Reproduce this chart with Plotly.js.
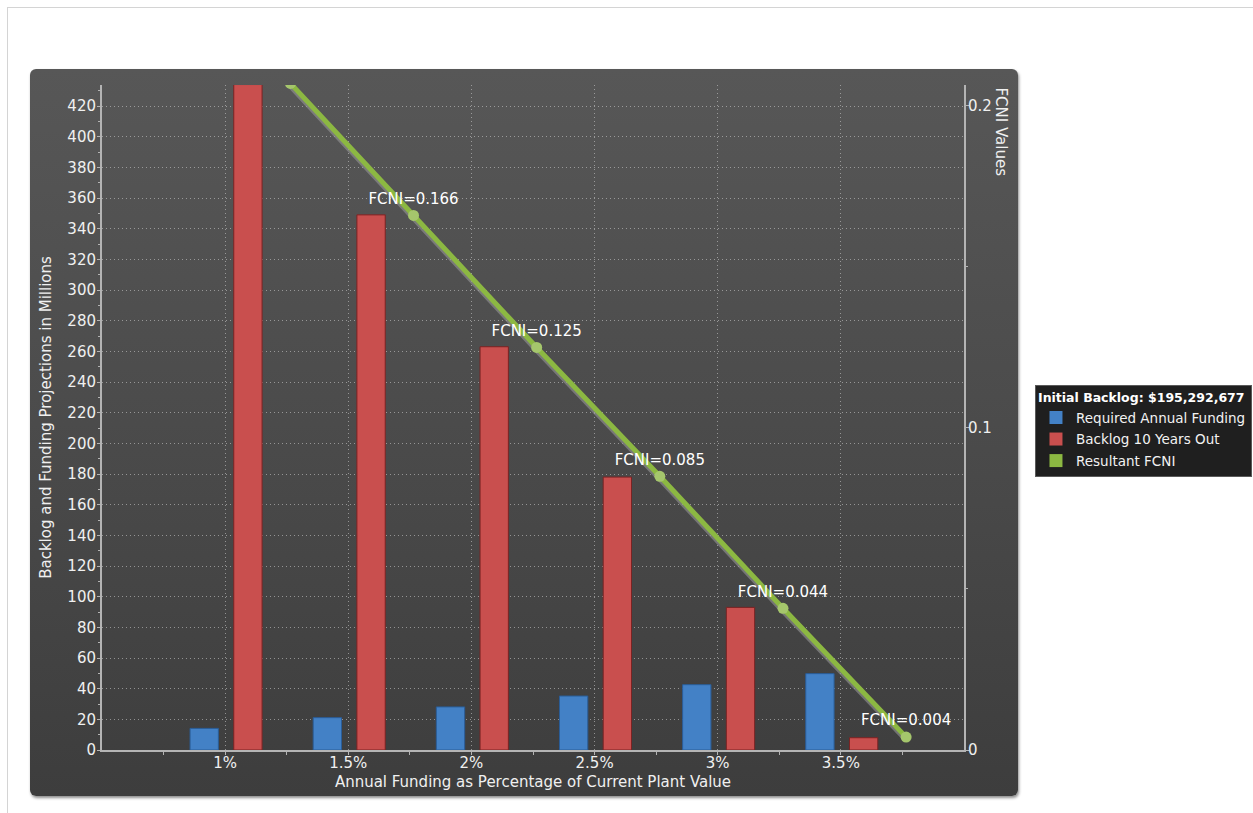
<!DOCTYPE html>
<html>
<head>
<meta charset="utf-8">
<script src="https://cdn.plot.ly/plotly-3.0.1.min.js"></script>
<style>
  html, body { margin: 0; padding: 0; background: #ffffff; overflow: hidden; }
  #frame { position: absolute; left: 7px; top: 7px; width: 1270px; height: 830px; border: 1px solid #d4d4d4; box-sizing: border-box; }
  #panel { position: absolute; left: 30px; top: 69px; width: 988px; height: 727px; border-radius: 6px;
           background: linear-gradient(to bottom, #575757 0%, #4c4c4c 45%, #3d3d3d 100%);
           box-shadow: 1px 2px 3px rgba(0,0,0,0.45); }
  #chart { position: absolute; left: 0; top: 0; width: 1253px; height: 813px; }
</style>
</head>
<body>
<div id="frame"></div>
<div id="panel"></div>
<div id="chart"></div>
<script>
// ---- data ----
const categories = ['1%', '1.5%', '2%', '2.5%', '3%', '3.5%'];
const requiredFunding = [14.1, 21.1, 28.1, 35.2, 42.6, 49.8];   // millions
const backlog10Years = [434, 349, 263, 178, 93, 8];             // millions
const fcniValues = [0.207, 0.166, 0.125, 0.085, 0.044, 0.004];
const legendTitle = 'Initial Backlog: $195,292,677';
const seriesNames = ['Required Annual Funding', 'Backlog 10 Years Out', 'Resultant FCNI'];

// ---- styling ----
const FONT = "'DejaVu Sans', Verdana, sans-serif";
const BLUE = '#4381c6', BLUE_EDGE = '#2a5d98';
const RED = '#c94f4e', RED_EDGE = '#7a2323';
const GREEN = '#8cb842', GREEN_MARK = '#a5c66c';
const AXIS = '#b4b4b4', GRID = 'rgba(200,200,200,0.6)', TXT = '#f0f0f0';
const DOTS = '1px,3px';

const X_MIN = -1, X_MAX = 6, Y_MAX = 433.7, Y2_MAX = 0.2065;
const PLOT_H = 665;

const idx = categories.map((c, i) => i);
const lineX = idx.map(i => i + 0.53);   // FCNI points sit between categories
const minorX = idx.map(i => i - 0.5).concat([idx.length - 0.5]);

// shadow offset: 3 px downward, expressed in FCNI-axis units
const sdy = 3 * Y2_MAX / PLOT_H;

const traces = [
  { type: 'bar', x: idx, y: requiredFunding, width: 0.23, offset: -0.285,
    marker: { color: BLUE, line: { color: BLUE_EDGE, width: 1 } },
    name: seriesNames[0], showlegend: false, hoverinfo: 'y' },
  { type: 'bar', x: idx, y: backlog10Years, width: 0.23, offset: 0.07,
    marker: { color: RED, line: { color: RED_EDGE, width: 1 } },
    name: seriesNames[1], showlegend: false, hoverinfo: 'y' },
  // legend swatches (on the FCNI axis so that axis is drawn)
  { type: 'scatter', mode: 'markers', x: [null], y: [null], yaxis: 'y2', name: seriesNames[0], legendgroup: 'a',
    marker: { symbol: 'square', size: 13, color: BLUE, line: { color: BLUE, width: 0 } } },
  { type: 'scatter', mode: 'markers', x: [null], y: [null], yaxis: 'y2', name: seriesNames[1], legendgroup: 'b',
    marker: { symbol: 'square', size: 13, color: RED, line: { color: RED, width: 0 } } },
  { type: 'scatter', mode: 'markers', x: [null], y: [null], yaxis: 'y2', name: seriesNames[2], legendgroup: 'c',
    marker: { symbol: 'square', size: 13, color: GREEN, line: { color: GREEN, width: 0 } } },
  // soft shadow of the FCNI line (drawn underneath)
  { type: 'scatter', mode: 'lines', x: lineX, y: fcniValues, xaxis: 'x', yaxis: 'y3',
    line: { color: 'rgba(150,150,150,0.6)', width: 5 }, showlegend: false, hoverinfo: 'skip' },
  // the FCNI line itself
  { type: 'scatter', mode: 'lines+markers+text', x: lineX, y: fcniValues, xaxis: 'x2', yaxis: 'y4',
    line: { color: GREEN, width: 5 },
    marker: { color: GREEN_MARK, size: 11 },
    text: fcniValues.map(v => 'FCNI=' + v.toFixed(3)),
    textposition: 'top center', textfont: { color: '#ffffff', size: 15, family: FONT },
    cliponaxis: true, name: seriesNames[2], showlegend: false }
];

const layout = {
  width: 1253, height: 813,
  margin: { l: 102, r: 289, t: 85, b: 63, pad: 0 },
  paper_bgcolor: 'rgba(0,0,0,0)', plot_bgcolor: 'rgba(0,0,0,0)',
  font: { family: FONT, color: TXT, size: 15 },
  barmode: 'overlay',
  xaxis: {
    range: [X_MIN, X_MAX], tickmode: 'array', tickvals: idx, ticktext: categories,
    showgrid: true, gridcolor: GRID, griddash: DOTS, gridwidth: 1,
    showline: true, linecolor: AXIS, linewidth: 2, zeroline: false,
    ticks: 'outside', ticklen: 3, tickcolor: AXIS, tickfont: { size: 15, color: TXT },
    ticklabelstandoff: -5,
    minor: { tickmode: 'array', tickvals: minorX, ticks: 'outside', ticklen: 3, tickcolor: AXIS, showgrid: false },
    title: { text: 'Annual Funding as Percentage of Current Plant Value', font: { size: 15, color: TXT }, standoff: 5 }
  },
  xaxis2: { overlaying: 'x', range: [X_MIN, X_MAX], visible: false },
  yaxis: {
    range: [0, Y_MAX], tick0: 0, dtick: 20,
    showgrid: true, gridcolor: GRID, griddash: DOTS, gridwidth: 1,
    showline: true, linecolor: AXIS, linewidth: 2, zeroline: false,
    ticks: 'outside', ticklen: 3, tickcolor: AXIS, tickfont: { size: 15, color: TXT },
    ticklabelstandoff: -2,
    minor: { dtick: 10, ticks: 'outside', ticklen: 2, tickcolor: AXIS, showgrid: false },
    title: { text: 'Backlog and Funding Projections in Millions', font: { size: 15, color: TXT }, standoff: 12 }
  },
  yaxis2: {
    overlaying: 'y', side: 'right', range: [0, Y2_MAX], tick0: 0, dtick: 0.1,
    showgrid: false, showline: true, linecolor: AXIS, linewidth: 2, zeroline: false,
    ticks: 'outside', ticklen: 3, tickcolor: AXIS, tickfont: { size: 15, color: TXT },
    ticklabelstandoff: -4,
    minor: { dtick: 0.05, ticks: 'outside', ticklen: 2, tickcolor: AXIS, showgrid: false }
  },
  yaxis3: { overlaying: 'y', range: [sdy, Y2_MAX + sdy], visible: false },
  yaxis4: { overlaying: 'y', range: [0, Y2_MAX], visible: false },
  legend: {
    xref: 'container', yref: 'container',
    x: 0.826, xanchor: 'left', y: 0.5265, yanchor: 'top',
    bgcolor: '#1f1f1f', bordercolor: '#5a5a5a', borderwidth: 1,
    font: { family: FONT, size: 13.5, color: '#f2f2f2' },
    title: { text: legendTitle, side: 'top', font: { family: FONT, size: 12.5, color: '#ffffff', weight: 'bold' } },
    traceorder: 'grouped', tracegroupgap: 1, itemclick: false
  },
  annotations: [
    { text: 'FCNI Values', xref: 'paper', yref: 'paper', x: 1.043, y: 1.0,
      xanchor: 'center', yanchor: 'top', textangle: 90, showarrow: false,
      font: { family: FONT, size: 15, color: TXT } }
  ],
  showlegend: true
};

Plotly.newPlot('chart', traces, layout, { displayModeBar: false, staticPlot: true });
</script>
</body>
</html>
